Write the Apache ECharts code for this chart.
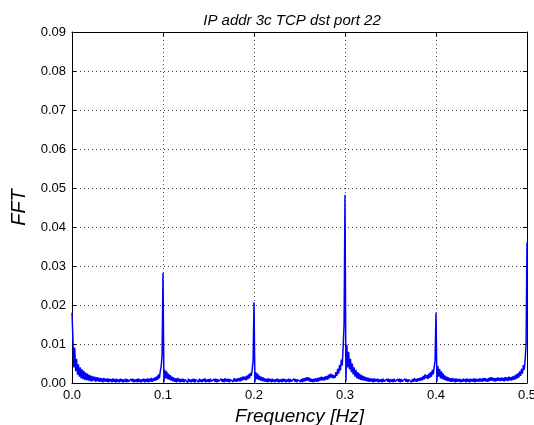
<!DOCTYPE html>
<html>
<head>
<meta charset="utf-8">
<script src="https://cdn.jsdelivr.net/npm/echarts@6/dist/echarts.min.js"></script>
<style>
  html, body { margin: 0; padding: 0; background: #fff; overflow: hidden; }
  #chart { width: 534px; height: 425px; }
</style>
</head>
<body>
<div id="chart"></div>
<script>
// FFT magnitude spectrum, one value per frequency bin (bin width 0.001 Hz, 0 .. 0.5 Hz)
var binWidth = 0.001;
var fftValues = [
  0.0180, 0.0115, 0.0040, 0.0090, 0.0030, 0.0062, 0.0021, 0.0048, 0.0016, 0.0040,
  0.0012, 0.0035, 0.0010, 0.0031, 0.0008, 0.0027, 0.0007, 0.0024, 0.0006, 0.0021,
  0.0005, 0.0019, 0.0004, 0.0017, 0.0006, 0.0016, 0.0003, 0.0015, 0.0005, 0.0014,
  0.0003, 0.0013, 0.0004, 0.0012, 0.0002, 0.0013, 0.0004, 0.0011, 0.0003, 0.0012,
  0.0002, 0.0011, 0.0004, 0.0010, 0.0002, 0.0012, 0.0003, 0.0010, 0.0001, 0.0011,
  0.0003, 0.0009, 0.0002, 0.0011, 0.0004, 0.0010, 0.0001, 0.0009, 0.0003, 0.0011,
  0.0002, 0.0010, 0.0003, 0.0008, 0.0001, 0.0010, 0.0004, 0.0011, 0.0002, 0.0009,
  0.0003, 0.0010, 0.0002, 0.0012, 0.0003, 0.0009, 0.0001, 0.0010, 0.0004, 0.0011,
  0.0002, 0.0010, 0.0003, 0.0012, 0.0002, 0.0011, 0.0004, 0.0013, 0.0003, 0.0012,
  0.0005, 0.0014, 0.0006, 0.0017, 0.0008, 0.0022, 0.0012, 0.0030, 0.0042, 0.0070,
  0.0282, 0.0002, 0.0034, 0.0012, 0.0030, 0.0010, 0.0024, 0.0008, 0.0020, 0.0006,
  0.0016, 0.0004, 0.0014, 0.0003, 0.0012, 0.0002, 0.0013, 0.0004, 0.0011, 0.0002,
  0.0010, 0.0003, 0.0011, 0.0002, 0.0009, 0.0004, 0.0010, 0.0001, 0.0011, 0.0003,
  0.0009, 0.0002, 0.0010, 0.0003, 0.0011, 0.0001, 0.0009, 0.0004, 0.0010, 0.0002,
  0.0011, 0.0003, 0.0009, 0.0002, 0.0010, 0.0004, 0.0012, 0.0002, 0.0009, 0.0003,
  0.0010, 0.0002, 0.0011, 0.0004, 0.0009, 0.0001, 0.0010, 0.0003, 0.0011, 0.0002,
  0.0010, 0.0004, 0.0009, 0.0002, 0.0011, 0.0003, 0.0010, 0.0002, 0.0012, 0.0004,
  0.0010, 0.0003, 0.0011, 0.0002, 0.0009, 0.0004, 0.0011, 0.0003, 0.0012, 0.0004,
  0.0011, 0.0003, 0.0012, 0.0005, 0.0013, 0.0004, 0.0015, 0.0006, 0.0017, 0.0008,
  0.0016, 0.0007, 0.0019, 0.0009, 0.0022, 0.0012, 0.0026, 0.0018, 0.0034, 0.0056,
  0.0207, 0.0002, 0.0028, 0.0010, 0.0024, 0.0008, 0.0019, 0.0006, 0.0016, 0.0005,
  0.0014, 0.0004, 0.0012, 0.0003, 0.0011, 0.0002, 0.0012, 0.0004, 0.0010, 0.0002,
  0.0011, 0.0003, 0.0009, 0.0002, 0.0010, 0.0004, 0.0011, 0.0001, 0.0009, 0.0003,
  0.0010, 0.0002, 0.0011, 0.0004, 0.0010, 0.0002, 0.0009, 0.0003, 0.0011, 0.0002,
  0.0010, 0.0004, 0.0009, 0.0002, 0.0011, 0.0003, 0.0010, 0.0002, 0.0009, 0.0004,
  0.0011, 0.0003, 0.0010, 0.0002, 0.0012, 0.0004, 0.0013, 0.0005, 0.0015, 0.0006,
  0.0014, 0.0004, 0.0012, 0.0003, 0.0010, 0.0002, 0.0011, 0.0004, 0.0012, 0.0003,
  0.0013, 0.0004, 0.0014, 0.0006, 0.0016, 0.0007, 0.0015, 0.0006, 0.0017, 0.0008,
  0.0018, 0.0009, 0.0021, 0.0012, 0.0024, 0.0014, 0.0022, 0.0012, 0.0020, 0.0013,
  0.0028, 0.0018, 0.0036, 0.0024, 0.0046, 0.0032, 0.0060, 0.0045, 0.0095, 0.0150,
  0.0482, 0.0004, 0.0098, 0.0040, 0.0080, 0.0035, 0.0062, 0.0028, 0.0050, 0.0022,
  0.0040, 0.0016, 0.0034, 0.0012, 0.0028, 0.0010, 0.0024, 0.0008, 0.0021, 0.0007,
  0.0018, 0.0006, 0.0016, 0.0005, 0.0014, 0.0004, 0.0013, 0.0003, 0.0012, 0.0004,
  0.0011, 0.0002, 0.0012, 0.0003, 0.0010, 0.0004, 0.0011, 0.0002, 0.0009, 0.0003,
  0.0010, 0.0002, 0.0011, 0.0004, 0.0009, 0.0001, 0.0010, 0.0003, 0.0011, 0.0002,
  0.0009, 0.0003, 0.0010, 0.0002, 0.0011, 0.0004, 0.0009, 0.0002, 0.0010, 0.0003,
  0.0011, 0.0002, 0.0010, 0.0004, 0.0009, 0.0002, 0.0011, 0.0003, 0.0010, 0.0002,
  0.0009, 0.0004, 0.0011, 0.0002, 0.0010, 0.0003, 0.0012, 0.0004, 0.0011, 0.0003,
  0.0012, 0.0005, 0.0013, 0.0006, 0.0015, 0.0007, 0.0018, 0.0009, 0.0022, 0.0012,
  0.0020, 0.0010, 0.0024, 0.0013, 0.0028, 0.0016, 0.0034, 0.0022, 0.0040, 0.0058,
  0.0180, 0.0003, 0.0044, 0.0016, 0.0036, 0.0012, 0.0030, 0.0010, 0.0024, 0.0008,
  0.0019, 0.0006, 0.0016, 0.0005, 0.0014, 0.0004, 0.0012, 0.0003, 0.0013, 0.0004,
  0.0011, 0.0002, 0.0012, 0.0003, 0.0010, 0.0004, 0.0011, 0.0002, 0.0009, 0.0003,
  0.0011, 0.0004, 0.0010, 0.0002, 0.0012, 0.0003, 0.0010, 0.0002, 0.0011, 0.0004,
  0.0010, 0.0003, 0.0012, 0.0002, 0.0011, 0.0004, 0.0010, 0.0003, 0.0012, 0.0004,
  0.0011, 0.0003, 0.0013, 0.0005, 0.0012, 0.0004, 0.0011, 0.0003, 0.0013, 0.0005,
  0.0015, 0.0006, 0.0014, 0.0005, 0.0012, 0.0004, 0.0013, 0.0005, 0.0014, 0.0006,
  0.0013, 0.0005, 0.0014, 0.0006, 0.0013, 0.0004, 0.0015, 0.0006, 0.0014, 0.0005,
  0.0016, 0.0007, 0.0015, 0.0006, 0.0017, 0.0008, 0.0019, 0.0009, 0.0022, 0.0011,
  0.0025, 0.0014, 0.0030, 0.0018, 0.0036, 0.0024, 0.0046, 0.0034, 0.0062, 0.0098,
  0.0360
];

// axis ranges and tick spacing
var xMin = 0, xMax = 0.5, xStep = 0.1;
var yMin = 0, yMax = 0.09, yStep = 0.01;

var chartTitle = 'IP addr 3c TCP dst port 22';
var xTitle = 'Frequency [Hz]';
var yTitle = 'FFT';

var points = fftValues.map(function (v, i) { return [i * binWidth, v]; });

var font = 'Liberation Sans, Arial, Helvetica, sans-serif';

function baseAxis(extra) {
  var a = {
    type: 'value',
    axisLine: { show: true, onZero: false, lineStyle: { color: '#000', width: 1 } },
    axisTick: { show: true, inside: true, length: 4, lineStyle: { color: '#000' } },
    splitLine: { show: false },
    axisLabel: { show: false }
  };
  for (var k in extra) a[k] = extra[k];
  return a;
}

var chart = echarts.init(document.getElementById('chart'), null, { renderer: 'canvas' });
chart.setOption({
  animation: false,
  backgroundColor: '#fff',
  title: {
    text: chartTitle,
    left: 287,
    top: 8,
    textAlign: 'center',
    textStyle: { fontFamily: font, fontStyle: 'italic', fontWeight: 'normal', fontSize: 15, color: '#000' }
  },
  grid: { left: 72, right: 7, top: 32, bottom: 42, containLabel: false, outerBoundsMode: 'none' },
  xAxis: [
    baseAxis({
      position: 'bottom', min: xMin, max: xMax, interval: xStep,
      axisLabel: {
        show: true, color: '#000', fontFamily: font, fontSize: 13, margin: 6,
        formatter: function (v) { return v.toFixed(1); }
      },
      splitLine: { show: true, lineStyle: { color: '#444', width: 1, type: [1, 3] } },
      name: xTitle, nameLocation: 'middle', nameGap: 22,
      nameTextStyle: { fontFamily: font, fontStyle: 'italic', fontSize: 19, color: '#000' }
    }),
    baseAxis({ position: 'top', min: xMin, max: xMax, interval: xStep })
  ],
  yAxis: [
    baseAxis({
      position: 'left', min: yMin, max: yMax, interval: yStep,
      axisLabel: {
        show: true, color: '#000', fontFamily: font, fontSize: 13, margin: 6,
        formatter: function (v) { return v.toFixed(2); }
      },
      splitLine: { show: true, lineStyle: { color: '#444', width: 1, type: [1, 3] } },
      name: yTitle, nameLocation: 'middle', nameGap: 40,
      nameTextStyle: { fontFamily: font, fontStyle: 'italic', fontSize: 20, color: '#000' }
    }),
    baseAxis({ position: 'right', min: yMin, max: yMax, interval: yStep })
  ],
  series: [{
    type: 'line',
    xAxisIndex: 0,
    yAxisIndex: 0,
    data: points,
    showSymbol: false,
    clip: true,
    lineStyle: { color: '#0000ff', width: 1.5 },
    itemStyle: { color: '#0000ff' }
  }]
});
</script>
</body>
</html>
